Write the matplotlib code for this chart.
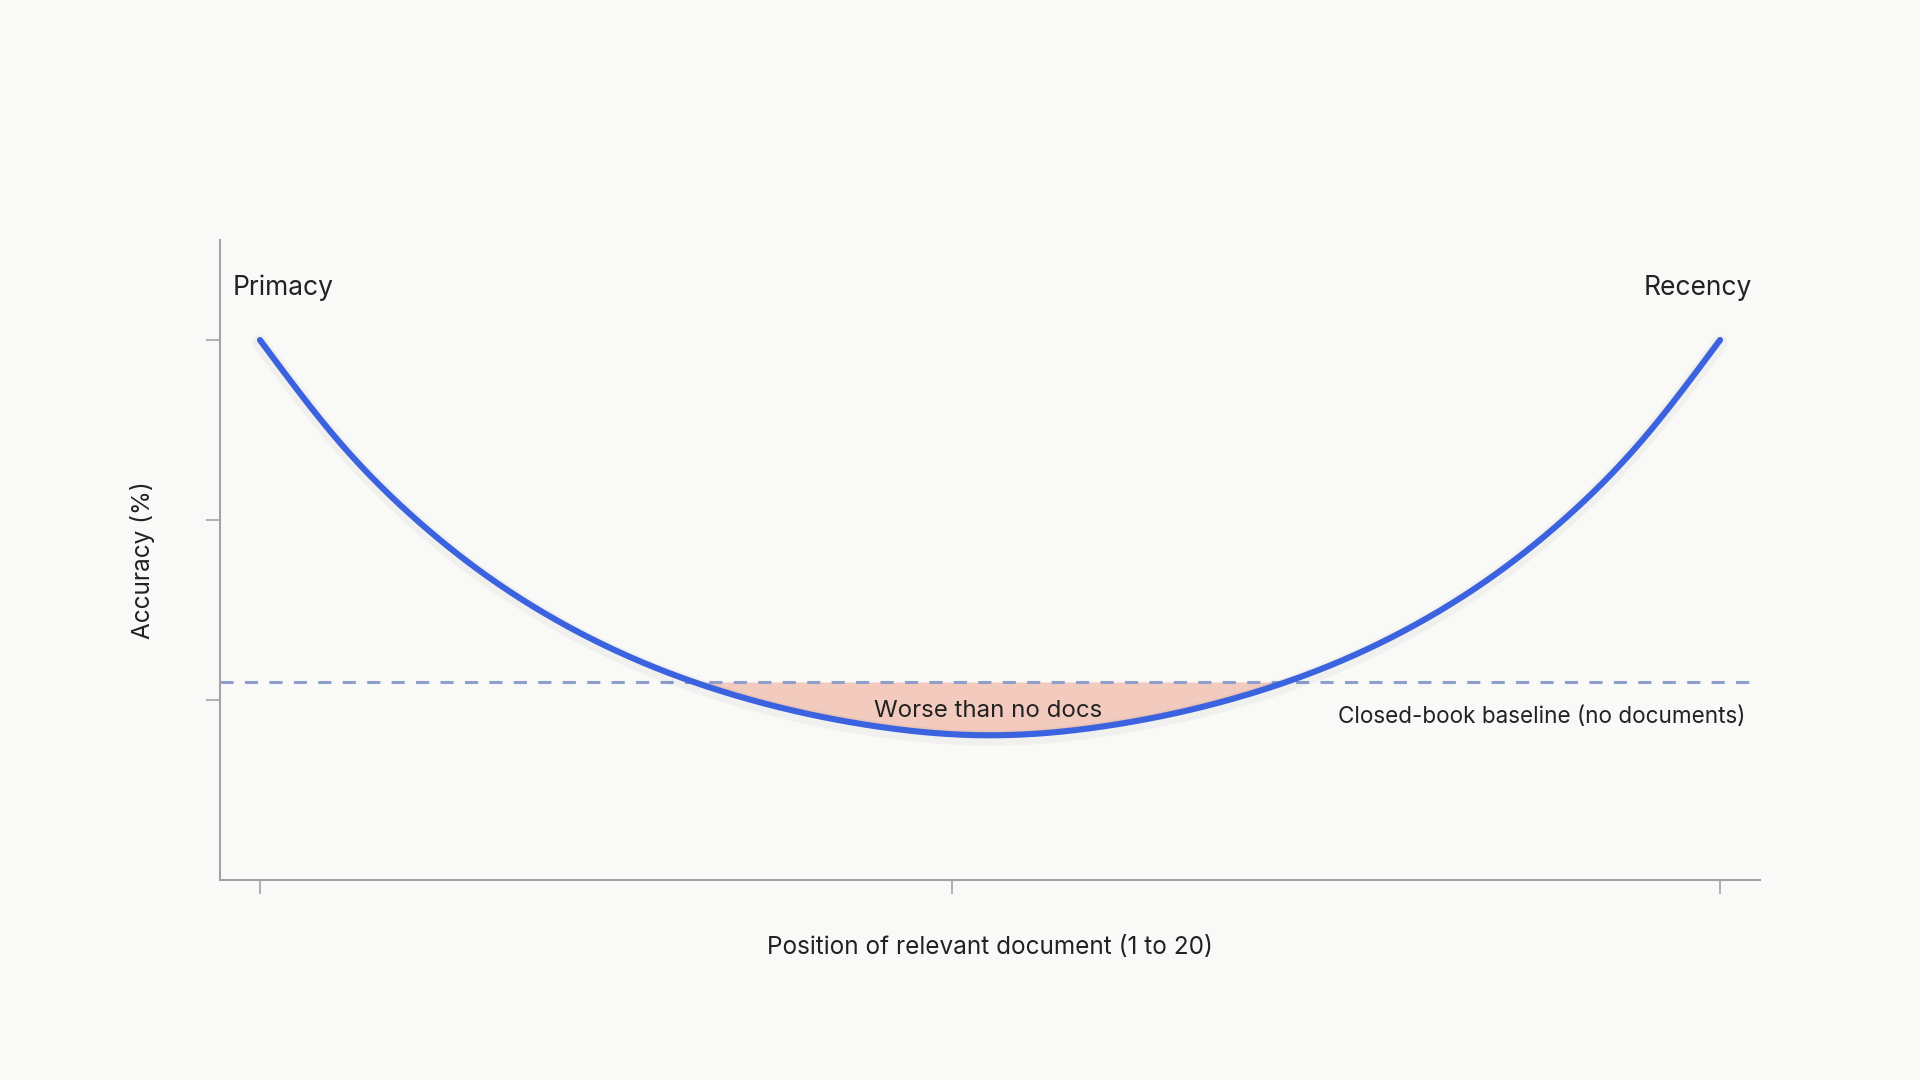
import numpy as np
import matplotlib
matplotlib.use("Agg")
import matplotlib.pyplot as plt
import matplotlib.patheffects as pe

# ---- data ----
positions = list(range(1, 21))
accuracy = [80.0, 69.0, 60.3, 53.5, 48.2, 44.1, 41.0, 38.7, 37.1, 36.2,
            36.2, 37.1, 38.7, 41.0, 44.1, 48.2, 53.5, 60.3, 69.0, 80.0]
baseline = 42.0
x_ticks = [1, 10, 20]
y_ticks = [40, 60, 80]
x_label = "Position of relevant document (1 to 20)"
y_label = "Accuracy (%)"
left_note = "Primacy"
right_note = "Recency"
fill_note = "Worse than no docs"
baseline_note = "Closed-book baseline (no documents)"

BG = "#f9f9f7"
BLUE = "#3c63df"
DASH = "#8e9fcb"
FILL = "#f2cbbe"
SPINE = "#a3a3a3"
TEXT = "#222222"

plt.rcParams['font.family'] = ['Inter', 'DejaVu Sans']


def natural_cubic(x, y, xs):
    x = np.asarray(x, float); y = np.asarray(y, float)
    n = len(x); h = np.diff(x)
    A = np.zeros((n, n)); b = np.zeros(n)
    A[0, 0] = 1; A[-1, -1] = 1
    for i in range(1, n - 1):
        A[i, i - 1] = h[i - 1]; A[i, i] = 2 * (h[i - 1] + h[i]); A[i, i + 1] = h[i]
        b[i] = 3 * ((y[i + 1] - y[i]) / h[i] - (y[i] - y[i - 1]) / h[i - 1])
    c = np.linalg.solve(A, b)
    bc = (y[1:] - y[:-1]) / h - h * (2 * c[:-1] + c[1:]) / 3
    d = (c[1:] - c[:-1]) / (3 * h)
    idx = np.clip(np.searchsorted(x, xs) - 1, 0, n - 2)
    dx = xs - x[idx]
    return y[idx] + bc[idx] * dx + c[idx] * dx ** 2 + d[idx] * dx ** 3


fig = plt.figure(figsize=(19.2, 10.8), dpi=100, facecolor=BG)
ax = fig.add_axes([220 / 1920, 200 / 1080, 1540 / 1920, 640 / 1080])
ax.set_facecolor(BG)

xs = np.linspace(positions[0], positions[-1], 600)
ys = natural_cubic(positions, accuracy, xs)

ax.fill_between(xs, ys, baseline, where=ys < baseline, interpolate=True,
                color=FILL, lw=0, zorder=1)
ax.axhline(baseline, color=DASH, lw=2.2, dashes=(4.3, 3.7), zorder=2)
ax.plot(xs, ys, color=BLUE, lw=4.4, solid_capstyle='round', zorder=3,
        path_effects=[pe.SimpleLineShadow(offset=(0, -2), shadow_color='black',
                                          alpha=0.035, linewidth=11),
                      pe.Normal()])

ax.set_xlim(0.48, 20.52)
ax.set_ylim(20, 20 + 640 / 9)
ax.set_xticks(x_ticks)
ax.set_yticks(y_ticks)
ax.set_xticklabels([])
ax.set_yticklabels([])
ax.tick_params(axis='both', length=10, width=1.2, color=SPINE)
for s in ['top', 'right']:
    ax.spines[s].set_visible(False)
for s in ['left', 'bottom']:
    ax.spines[s].set_color(SPINE)
    ax.spines[s].set_linewidth(1.5)

ax.set_xlabel(x_label, fontsize=17.5, color=TEXT, labelpad=27)
ax.set_ylabel(y_label, fontsize=17.5, color=TEXT, labelpad=33)

ax.text(0.65, 85.8, left_note, fontsize=19, color=TEXT, ha='left', va='center')
ax.text(20.42, 85.8, right_note, fontsize=19, color=TEXT, ha='right', va='center')
ax.text(10.47, 38.8, fill_note, fontsize=17.3, color=TEXT, ha='center', va='center', zorder=4)
ax.text(20.33, 38.1, baseline_note, fontsize=16.2, color=TEXT, ha='right', va='center')

fig.savefig("out.png", dpi=100, facecolor=BG)
